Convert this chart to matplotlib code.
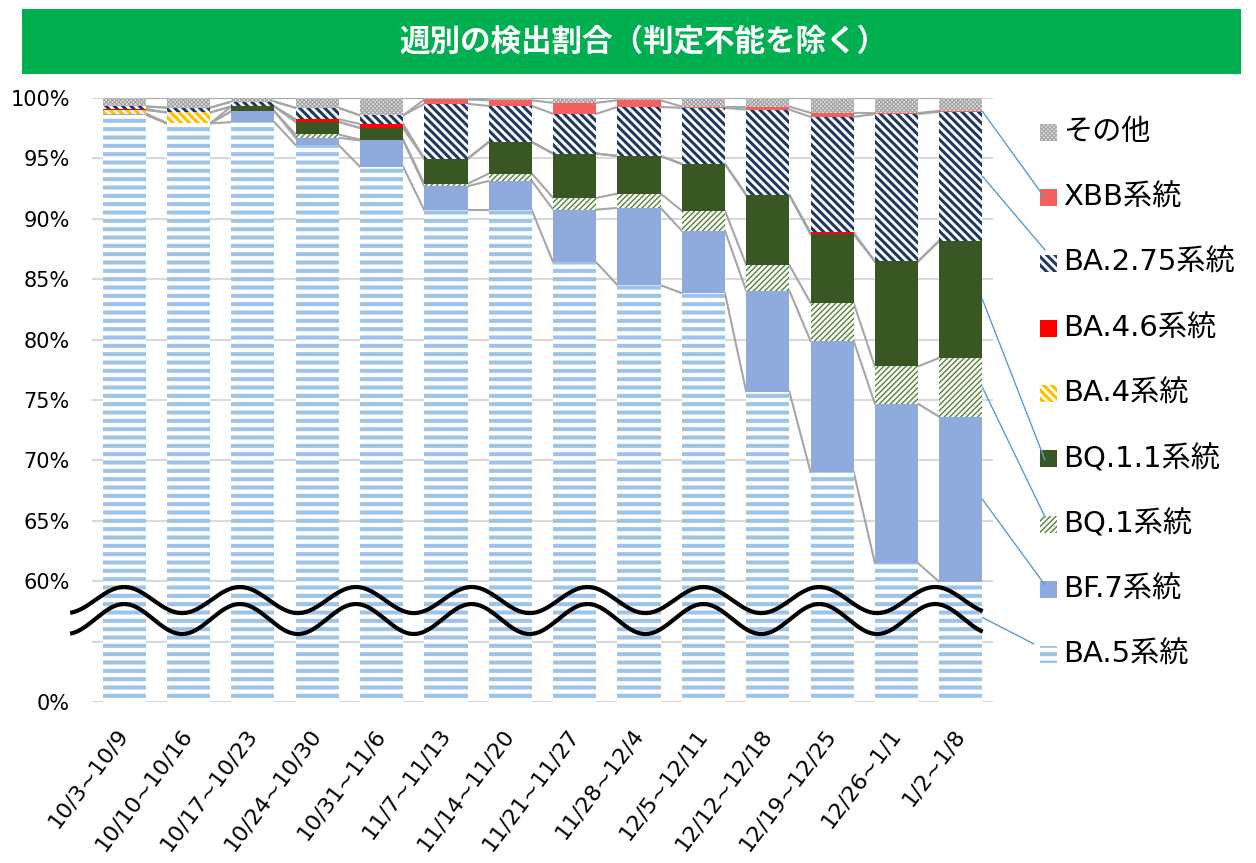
import matplotlib
matplotlib.use('Agg')
import matplotlib.pyplot as plt
import numpy as np
from matplotlib.patches import Rectangle, ConnectionPatch

W, H = 1256, 863

weeks = ['10/3~10/9', '10/10~10/16', '10/17~10/23', '10/24~10/30', '10/31~11/6',
         '11/7~11/13', '11/14~11/20', '11/21~11/27', '11/28~12/4', '12/5~12/11',
         '12/12~12/18', '12/19~12/25', '12/26~1/1', '1/2~1/8']

# weekly share (%) per lineage, bottom to top of each stack
ba5 = [98.6, 97.9, 98.0, 96.1, 94.3, 90.7, 90.7, 86.4, 84.5, 83.85, 75.7, 69.05, 61.5, 59.95]
bf7 = [0.1, 0.0, 0.9, 0.6, 2.2, 2.0, 2.43, 4.36, 6.4, 5.16, 8.36, 10.84, 13.19, 13.66]
bq1 = [0.0, 0.0, 0.0, 0.28, 0.05, 0.2, 0.61, 0.97, 1.19, 1.66, 2.13, 3.15, 3.09, 4.88]
bq11 = [0.0, 0.0, 0.4, 1.04, 0.97, 2.07, 2.62, 3.67, 3.11, 3.87, 5.79, 5.69, 8.69, 9.69]
ba4 = [0.3, 0.9, 0.0, 0.0, 0.0, 0.0, 0.0, 0.0, 0.0, 0.0, 0.0, 0.0, 0.0, 0.0]
ba46 = [0.1, 0.0, 0.0, 0.22, 0.33, 0.0, 0.0, 0.0, 0.0, 0.0, 0.0, 0.14, 0.0, 0.0]
ba275 = [0.2, 0.4, 0.4, 0.94, 0.71, 4.55, 2.98, 3.29, 4.06, 4.64, 7.06, 9.57, 12.2, 10.68]
xbb = [0.0, 0.0, 0.0, 0.0, 0.0, 0.36, 0.47, 0.91, 0.55, 0.11, 0.25, 0.33, 0.08, 0.08]
other = [0.7, 0.8, 0.3, 0.82, 1.44, 0.12, 0.19, 0.4, 0.19, 0.71, 0.71, 1.23, 1.25, 1.06]

names = ['BA.5系統', 'BF.7系統', 'BQ.1系統', 'BQ.1.1系統', 'BA.4系統',
         'BA.4.6系統', 'BA.2.75系統', 'XBB系統', 'その他']
series = [ba5, bf7, bq1, bq11, ba4, ba46, ba275, xbb, other]

# (facecolor, hatch colour, hatch, hatch linewidth)
styles = [
    ('white', '#9DC3E6', '--', 2.9),
    ('#8FAADC', '#8FAADC', None, 0),
    ('white', '#548235', '//////', 1.0),
    ('#385723', '#385723', None, 0),
    ('white', '#FFC000', '\\\\\\\\', 2.4),
    ('#FF0000', '#FF0000', None, 0),
    ('white', '#203864', '\\\\\\\\', 2.2),
    ('#F46060', '#F46060', None, 0),
    ('#E4E4E4', '#A6A6A6', 'xxxxxxxx', 0.9),
]


def styled(patch, st):
    fc, hc, hatch, hlw = st
    patch.set_facecolor(fc)
    patch.set_edgecolor(hc)
    patch.set_linewidth(0)
    if hatch:
        patch.set_hatch(hatch)
        if hasattr(patch, 'set_hatch_linewidth'):
            patch.set_hatch_linewidth(hlw)


fig = plt.figure(figsize=(W / 100, H / 100), dpi=100)
ax = fig.add_axes([92 / W, (H - 702) / H, (993 - 92) / W, (702 - 98) / H])

x = np.arange(len(weeks))
width = 0.67
bottom = np.zeros(len(weeks))
levels = []
for vals, st in zip(series, styles):
    vals = np.array(vals)
    with plt.rc_context({'hatch.linewidth': st[3] if st[3] else 1.0}):
        bars = ax.bar(x, vals, bottom=bottom, width=width, zorder=3)
        for b in bars:
            styled(b, st)
    bottom = bottom + vals
    levels.append(bottom.copy())

# series lines between neighbouring bars
for lev in levels:
    for i in range(len(weeks) - 1):
        ax.plot([x[i] + width / 2, x[i + 1] - width / 2], [lev[i], lev[i + 1]],
                color='#A6A6A6', lw=1.5, zorder=2)

ax.set_xlim(-0.5, len(weeks) - 0.5)
ax.set_ylim(50, 100)
ax.set_yticks([50, 55, 60, 65, 70, 75, 80, 85, 90, 95, 100])
ax.set_yticklabels(['0%', '', '60%', '65%', '70%', '75%', '80%', '85%', '90%', '95%', '100%'],
                   fontsize=15)
ax.set_xticks(x)
ax.set_xticklabels(weeks, rotation=53, ha='right', va='center', rotation_mode='anchor',
                   fontsize=16)
ax.tick_params(axis='y', length=0, pad=16)
ax.tick_params(axis='x', length=0, pad=21)
ax.yaxis.grid(True, color='#D9D9D9', lw=1.5)
ax.set_axisbelow(True)
for s in ax.spines.values():
    s.set_visible(False)

# axis break waves
xw = np.linspace(-0.84, 13.34, 800)
for c, a in [(58.44, 1.08), (56.87, 1.24)]:
    ax.plot(xw, c + a * np.cos(2 * np.pi * xw / 1.8), color='black', lw=3,
            zorder=6, clip_on=False, solid_capstyle='butt')

# title banner
fig.patches.append(Rectangle((22 / W, 1 - 74 / H), (1241 - 22) / W, 65 / H,
                             transform=fig.transFigure, facecolor='#00B050',
                             edgecolor='none'))
fig.text(643 / W, 1 - 42 / H, '週別の検出割合（判定不能を除く）', color='white',
         fontsize=22, fontweight='bold', family=['Noto Sans CJK JP'],
         ha='center', va='center')

# series labels on the right with leader lines
label_y = [654.9, 589.6, 524.3, 459.0, 393.7, 328.4, 263.1, 197.8, 132.5]
leader_end = {0: (1034, 644), 1: (1045, 585), 2: (1045, 517), 3: (1045, 460),
              6: (1045, 250), 7: (1045, 198)}
prev = np.zeros(len(weeks))
for k, (name, st, lev) in enumerate(zip(names, styles, levels)):
    ly = label_y[k]
    r = Rectangle((1040 / W, 1 - (ly + 8.5) / H), 17 / W, 17 / H,
                  transform=fig.transFigure)
    styled(r, st)
    fig.patches.append(r)
    fig.text(1063 / W, 1 - ly / H, name, fontsize=21,
             family=['DejaVu Sans', 'Noto Sans CJK JP'], ha='left', va='center')
    if k in leader_end:
        mid = (prev[-1] + lev[-1]) / 2 if k > 0 else 57.0
        ex, ey = leader_end[k]
        con = ConnectionPatch(xyA=(x[-1] + width / 2, mid), coordsA='data', axesA=ax,
                              xyB=(ex / W, 1 - ey / H), coordsB='figure fraction',
                              color='#5B9BD5', lw=1.0, zorder=7)
        fig.add_artist(con)
    prev = lev

fig.savefig('out.png', dpi=100)
